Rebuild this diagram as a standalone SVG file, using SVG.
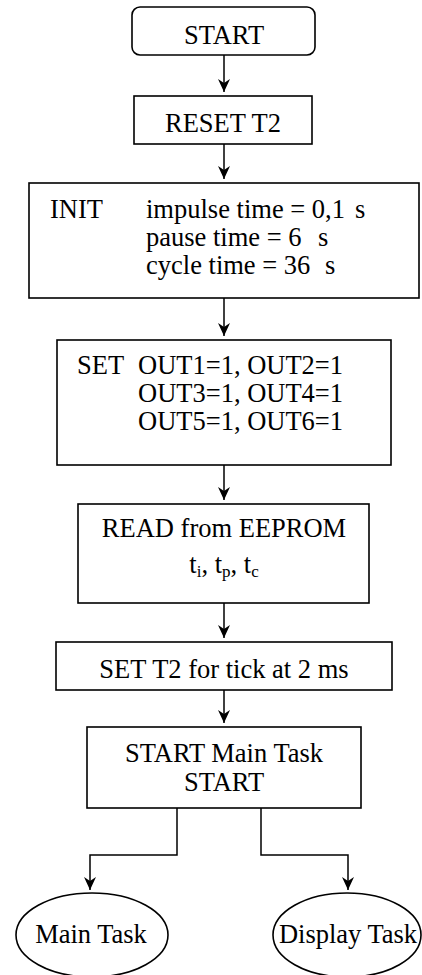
<svg xmlns="http://www.w3.org/2000/svg" width="422" height="975" viewBox="0 0 422 975">
  <style>
    .box { fill: #fff; stroke: #000; stroke-width: 1.6; }
    .wire { fill: none; stroke: #000; stroke-width: 1.5; }
    text { font-family: "Liberation Serif", "Times New Roman", serif; font-size: 26.5px; fill: #000; }
    .c { text-anchor: middle; }
    .sub { font-size: 17px; }
  </style>
  <defs>
    <!-- filled arrowhead with a notched back, pointing along +x -->
    <marker id="arrow" markerUnits="userSpaceOnUse" markerWidth="16" markerHeight="14" viewBox="-15 -7 16 14" refX="0" refY="0" orient="auto">
      <path d="M0,0 L-13,-6 L-9,0 L-13,6 Z" fill="#000"/>
    </marker>
  </defs>
  <rect width="422" height="975" fill="#fff"/>

  <!-- connectors -->
  <g id="connectors">
    <line class="wire" x1="224" y1="55" x2="224" y2="92" marker-end="url(#arrow)"/>
    <line class="wire" x1="224" y1="144" x2="224" y2="179" marker-end="url(#arrow)"/>
    <line class="wire" x1="224" y1="298" x2="224" y2="336" marker-end="url(#arrow)"/>
    <line class="wire" x1="224" y1="465" x2="224" y2="500" marker-end="url(#arrow)"/>
    <line class="wire" x1="224" y1="603" x2="224" y2="638" marker-end="url(#arrow)"/>
    <line class="wire" x1="224" y1="690" x2="224" y2="723" marker-end="url(#arrow)"/>
    <polyline class="wire" points="177,808 177,855 90,855 90,890" marker-end="url(#arrow)"/>
    <polyline class="wire" points="261,808 261,855 348,855 348,890" marker-end="url(#arrow)"/>
  </g>

  <!-- terminal: start -->
  <g id="start">
    <rect class="box" x="132" y="7" width="183" height="48" rx="8" ry="8"/>
    <text class="c" x="224" y="44">START</text>
  </g>

  <g id="reset-t2">
    <rect class="box" x="134" y="96" width="178" height="48"/>
    <text class="c" x="223" y="132">RESET T2</text>
  </g>

  <g id="init">
    <rect class="box" x="29" y="183" width="390" height="115"/>
    <text x="50" y="218">INIT<tspan x="146">impulse time = 0,1</tspan><tspan x="355">s</tspan><tspan x="146" dy="28">pause time = 6</tspan><tspan x="318">s</tspan><tspan x="146" dy="28">cycle time = 36</tspan><tspan x="325">s</tspan></text>
  </g>

  <g id="set-outputs">
    <rect class="box" x="57" y="340" width="334" height="125"/>
    <text x="77" y="374">SET<tspan x="138">OUT1=1, OUT2=1</tspan><tspan x="138" dy="28">OUT3=1, OUT4=1</tspan><tspan x="138" dy="28">OUT5=1, OUT6=1</tspan></text>
  </g>

  <g id="read-eeprom">
    <rect class="box" x="78" y="504" width="291" height="99"/>
    <text class="c" x="224" y="537">READ from EEPROM</text>
    <text class="c" x="224" y="573">t<tspan class="sub" dy="4">i</tspan><tspan dy="-4">, t</tspan><tspan class="sub" dy="4">p</tspan><tspan dy="-4">, t</tspan><tspan class="sub" dy="4">c</tspan></text>
  </g>

  <g id="set-t2">
    <rect class="box" x="56" y="642" width="336" height="48"/>
    <text class="c" x="224" y="678">SET T2 for tick at 2 ms</text>
  </g>

  <g id="start-tasks">
    <rect class="box" x="87" y="727" width="274" height="81"/>
    <text class="c" x="224" y="762">START Main Task<tspan x="224" dy="29">START</tspan></text>
  </g>

  <g id="main-task">
    <ellipse class="box" cx="92" cy="935" rx="76" ry="42"/>
    <text class="c" x="91" y="943">Main Task</text>
  </g>

  <g id="display-task">
    <ellipse class="box" cx="347" cy="935" rx="74" ry="42"/>
    <text class="c" x="348" y="943">Display Task</text>
  </g>
</svg>
